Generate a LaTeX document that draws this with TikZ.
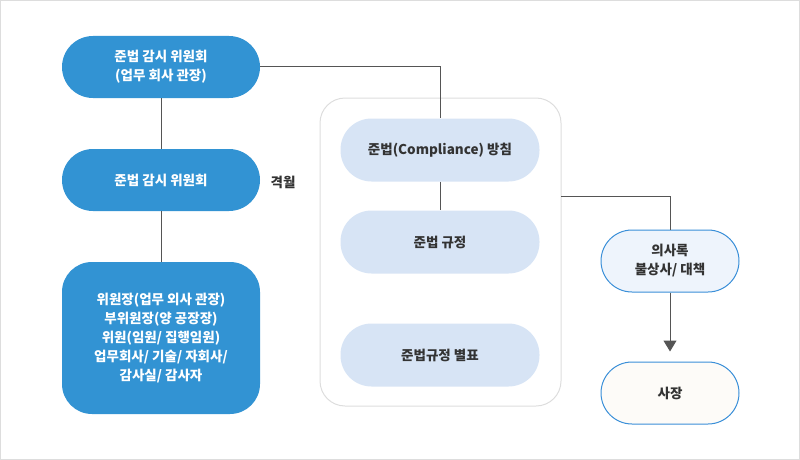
\documentclass[tikz,border=0pt]{standalone}
\usepackage{fontspec}
\setmainfont{Noto Sans CJK KR}
\usetikzlibrary{positioning,arrows.meta}
\definecolor{boardblue}{HTML}{3293D3}
\definecolor{rulefill}{HTML}{D7E4F5}
\definecolor{notefill}{HTML}{EEF4FC}
\definecolor{chieffill}{HTML}{FDFBF8}
\definecolor{lineblue}{HTML}{3A8FD8}
\definecolor{inkgray}{HTML}{333333}
\definecolor{wiregray}{HTML}{555555}
\definecolor{framegray}{HTML}{DDDDDD}
\begin{document}
\begin{tikzpicture}[x=1pt,y=-1pt,
            board/.style={rectangle,fill=boardblue,text=white,minimum width=198pt,minimum height=62pt,rounded corners=31pt,align=center,font=\bfseries\fontsize{13.5}{19}\selectfont},
            rule/.style={rectangle,fill=rulefill,text=inkgray,minimum width=199pt,minimum height=63pt,rounded corners=31pt,align=center,font=\bfseries\fontsize{13.5}{19}\selectfont},
            note/.style={rectangle,draw=lineblue,line width=1pt,text=inkgray,minimum width=138pt,minimum height=62pt,rounded corners=31pt,align=center,font=\bfseries\fontsize{13.5}{19}\selectfont},
            wire/.style={draw=wiregray,line width=1pt}]

            \useasboundingbox (0,0) rectangle (800,460);
            \draw[framegray,line width=1pt] (0.5,0.5) rectangle (799.5,459.5);

            % left column
            \node[board] (mainboard) at (161,67) {준법 감시 위원회\\(업무 회사 관장)};
            \node[board] (subboard) at (161,180) {준법 감시 위원회};
            \node[board,minimum height=152pt,rounded corners=30pt] (members) at (161,338) {위원장(업무 외사 관장)\\부위원장(양 공장장)\\위원(임원/ 집행임원)\\업무회사/ 기술/ 자회사/\\감사실/ 감사자};
            \node[text=inkgray,font=\bfseries\fontsize{13.5}{19}\selectfont] (cycle) at (283,182) {격월};

            % middle column
            \draw[framegray,line width=1pt,rounded corners=25pt] (320,98) rectangle (561,406);
            \node[rule] (policy) at (440,150) {준법(Compliance) 방침};
            \node[rule] (rules) at (440,242) {준법 규정};
            \node[rule] (annex) at (440,355) {준법규정 별표};
            \coordinate (tap) at (561,196);

            % right column
            \node[note,fill=notefill] (minutes) at (670,261) {의사록\\불상사/ 대책};
            \node[note,fill=chieffill] (chief) at (670,393) {사장};

            \draw[wire] (mainboard) -- (subboard);
            \draw[wire] (subboard) -- (members);
            \draw[wire] (mainboard.east) -| (policy.north);
            \draw[wire] (policy) -- (rules);
            \draw[wire] (tap) -| (minutes.north);
            \draw[wire,-{Triangle[width=13pt,length=11pt]},fill=wiregray,shorten >=10pt] (minutes) -- (chief);
         \end{tikzpicture}
\end{document}
